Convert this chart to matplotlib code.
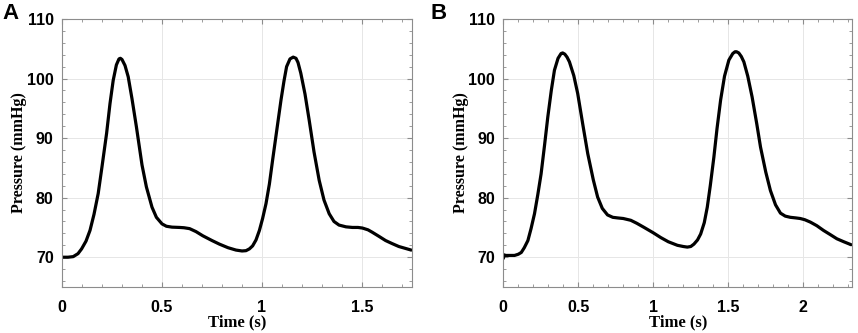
import matplotlib
matplotlib.use("Agg")
import matplotlib.pyplot as plt
from matplotlib.ticker import MultipleLocator

# panel A pressure trace
timeA = [0.0, 0.03, 0.056, 0.08, 0.098, 0.12, 0.14, 0.16, 0.181, 0.2, 0.223, 0.24, 0.256,
         0.272, 0.285, 0.292, 0.30, 0.315, 0.331, 0.35, 0.372, 0.40, 0.422, 0.45, 0.472,
         0.50, 0.522, 0.55, 0.588, 0.61, 0.638, 0.67, 0.704, 0.75, 0.787, 0.83, 0.870,
         0.90, 0.920, 0.937, 0.953, 0.97, 0.987, 1.003, 1.020, 1.037, 1.053, 1.075, 1.095,
         1.11, 1.123, 1.14, 1.156, 1.17, 1.18, 1.194, 1.215, 1.236, 1.26, 1.286, 1.31,
         1.336, 1.36, 1.385, 1.42, 1.452, 1.48, 1.502, 1.53, 1.551, 1.585, 1.618, 1.65,
         1.684, 1.715, 1.746]
pressureA = [70.0, 70.0, 70.1, 70.6, 71.4, 72.7, 74.5, 77.2, 80.7, 85.2, 90.8, 95.8, 99.7,
             102.3, 103.3, 103.4, 103.2, 102.2, 100.3, 96.6, 91.9, 85.5, 81.8, 78.4, 76.7,
             75.6, 75.2, 75.05, 75.0, 74.95, 74.8, 74.3, 73.6, 72.8, 72.2, 71.6, 71.2,
             71.05, 71.1, 71.4, 71.9, 72.9, 74.5, 76.5, 79.0, 82.3, 86.3, 91.6, 96.4,
             99.6, 102.0, 103.3, 103.6, 103.4, 102.7, 100.9, 97.4, 93.0, 87.7, 82.9, 79.6,
             77.3, 76.0, 75.4, 75.1, 75.0, 75.0, 74.9, 74.6, 74.2, 73.5, 72.8, 72.3,
             71.8, 71.5, 71.2]

# panel B pressure trace
timeB = [0.0, 0.006, 0.013, 0.04, 0.075, 0.10, 0.12, 0.14, 0.164, 0.185, 0.208, 0.23,
         0.252, 0.275, 0.297, 0.32, 0.341, 0.365, 0.385, 0.396, 0.41, 0.425, 0.441, 0.47,
         0.496, 0.53, 0.563, 0.60, 0.629, 0.66, 0.695, 0.73, 0.762, 0.80, 0.850, 0.89,
         0.939, 1.0, 1.050, 1.10, 1.161, 1.20, 1.227, 1.25, 1.271, 1.295, 1.316, 1.34,
         1.360, 1.38, 1.404, 1.425, 1.449, 1.475, 1.504, 1.53, 1.545, 1.555, 1.57, 1.587,
         1.604, 1.63, 1.659, 1.69, 1.715, 1.75, 1.781, 1.815, 1.848, 1.88, 1.914, 1.95,
         1.980, 2.01, 2.047, 2.09, 2.135, 2.18, 2.224, 2.27, 2.319]
pressureB = [69.8, 70.4, 70.3, 70.3, 70.3, 70.5, 70.8, 71.6, 72.8, 74.8, 77.3, 80.5,
             84.0, 88.8, 93.6, 98.0, 101.4, 103.4, 104.2, 104.3, 104.1, 103.6, 102.8, 100.5,
             97.5, 92.3, 87.4, 83.0, 80.1, 78.2, 77.1, 76.7, 76.6, 76.5, 76.2, 75.7,
             75.0, 74.1, 73.3, 72.6, 72.0, 71.8, 71.7, 71.8, 72.2, 72.9, 73.9, 75.8,
             78.4, 82.0, 86.8, 91.6, 96.4, 100.4, 103.1, 104.2, 104.5, 104.5, 104.3, 103.7,
             102.8, 100.4, 96.9, 92.4, 88.5, 84.3, 81.2, 78.8, 77.4, 76.9, 76.7, 76.6,
             76.5, 76.3, 75.9, 75.3, 74.5, 73.8, 73.1, 72.6, 72.1]

panels = [("A", timeA, pressureA, 1.75, [0, 0.5, 1, 1.5], ["0", "0.5", "1", "1.5"]),
          ("B", timeB, pressureB, 2.327, [0, 0.5, 1, 1.5, 2], ["0", "0.5", "1", "1.5", "2"])]
yticks = [70, 80, 90, 100, 110]

spineGray = "#8c8c8c"
gridGray = "#e6e6e6"

fig = plt.figure(figsize=(8.58, 3.33), dpi=100)
fig.patch.set_facecolor("white")

axes_pos = [[62 / 858, 46 / 333, 350 / 858, 268 / 333],
            [503.3 / 858, 46 / 333, 349 / 858, 268 / 333]]
letter_x = [2 / 858, 430 / 858]

for i, (letter, t, p, xmax, xt, xtl) in enumerate(panels):
    ax = fig.add_axes(axes_pos[i])
    ax.plot(t, p, color="black", linewidth=2.3, solid_capstyle="round", solid_joinstyle="round")
    ax.set_xlim(0, xmax)
    ax.set_ylim(65, 110)

    ax.set_xticks(xt)
    ax.set_xticklabels(xtl, fontfamily="Liberation Sans", fontweight="bold", fontsize=11.5)
    ax.set_yticks(yticks)
    ax.set_yticklabels([str(v) for v in yticks], fontfamily="Liberation Sans",
                       fontweight="bold", fontsize=11.5)
    ax.xaxis.set_minor_locator(MultipleLocator(0.1))
    ax.yaxis.set_minor_locator(MultipleLocator(2))
    ax.tick_params(which="both", direction="in", top=True, right=True, color=spineGray,
                   labelcolor="black")
    ax.tick_params(which="major", length=3.5, width=0.8)
    ax.tick_params(axis="x", which="major", pad=9)
    ax.tick_params(axis="y", which="major", pad=6)
    ax.tick_params(which="minor", length=2, width=0.6)

    ax.grid(True, which="major", color=gridGray, linewidth=0.7)
    ax.set_axisbelow(True)
    for s in ax.spines.values():
        s.set_color(spineGray)
        s.set_linewidth(0.8)

    ax.set_xlabel("Time (s)", fontfamily="Liberation Serif", fontweight="bold",
                  fontsize=12, labelpad=0)
    ax.set_ylabel("Pressure (mmHg)", fontfamily="Liberation Serif", fontweight="bold",
                  fontsize=11.5, va="center")
    ax.yaxis.set_label_coords(-0.122, 0.5)

    fig.text(letter_x[i], 0.99, letter, fontfamily="Liberation Sans", fontweight="bold",
             fontsize=16, ha="left", va="top")

fig.savefig("out.png", dpi=100)
